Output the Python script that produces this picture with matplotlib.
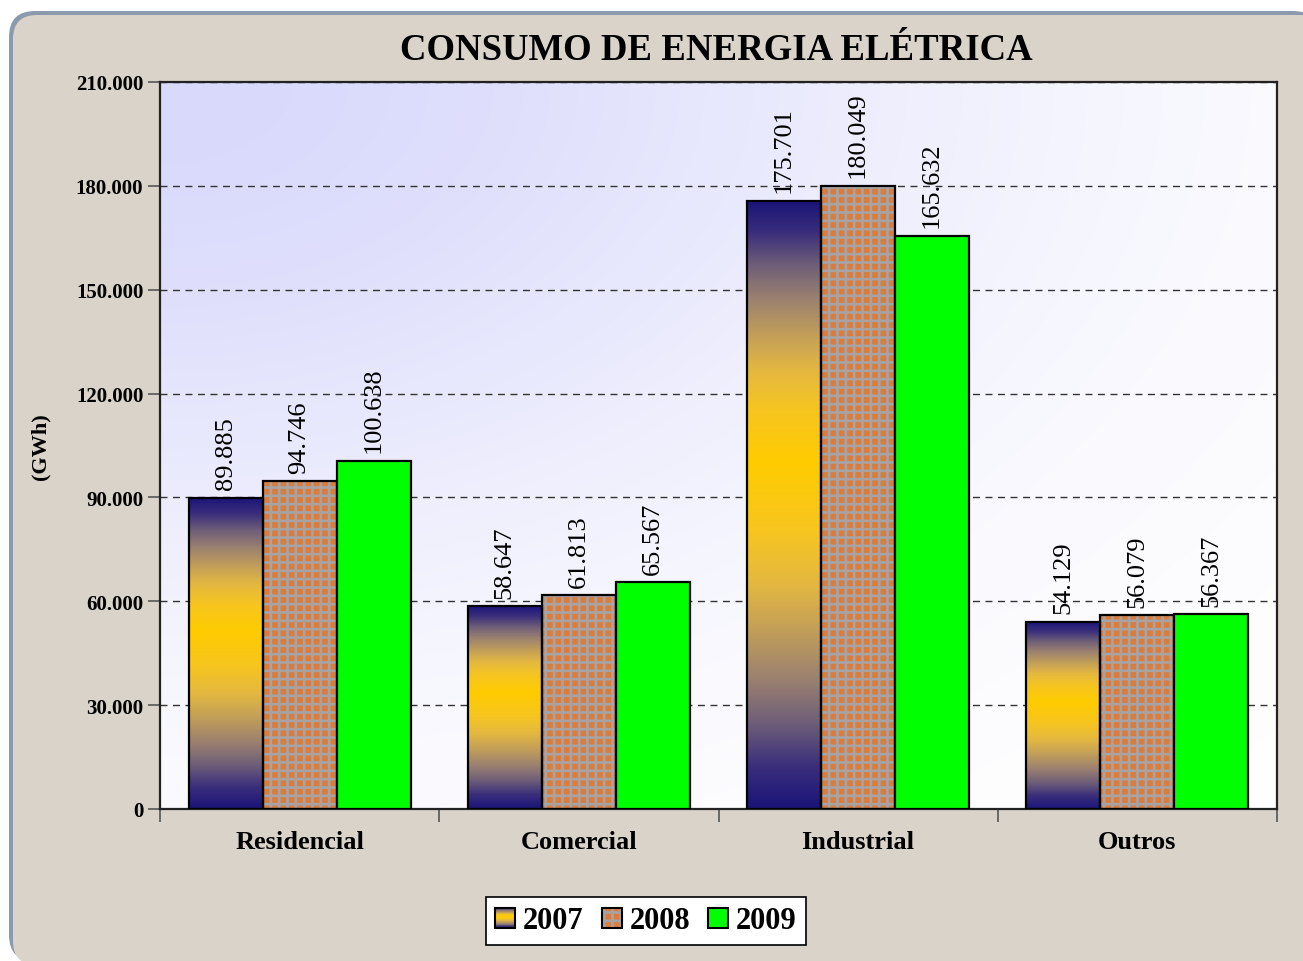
import numpy as np
import matplotlib

matplotlib.use("Agg")
import matplotlib.pyplot as plt
from matplotlib.colors import LinearSegmentedColormap, to_rgb
from matplotlib.patches import FancyBboxPatch, Patch, Rectangle
from matplotlib.transforms import IdentityTransform
from matplotlib.legend_handler import HandlerBase

# dados (GWh)
categorias = ["Residencial", "Comercial", "Industrial", "Outros"]
anos = ["2007", "2008", "2009"]
v2007 = [89885, 58647, 175701, 54129]
v2008 = [94746, 61813, 180049, 56079]
v2009 = [100638, 65567, 165632, 56367]
yticks = [0, 30000, 60000, 90000, 120000, 150000, 180000, 210000]

plt.rcParams["font.family"] = ["Liberation Serif", "DejaVu Serif"]
plt.rcParams["hatch.linewidth"] = 1.9

LARANJA = "#d97d3e"
CINZA_XADREZ = "#a8a2a2"
VERDE = "#00ff00"

# degradê da série 2007: azul-marinho -> amarelo -> azul-marinho
passos = [0, 0.12, 0.245, 0.37, 0.52, 0.65, 0.80, 1.0]
cores = ["#1a1478", "#3a2e7c", "#6e5e78", "#9a8070", "#c4a058", "#e4b840", "#f6c520", "#ffcc00"]
pico = 0.57
stops = [(s * pico, c) for s, c in zip(passos, cores)]
stops += [(1 - s * (1 - pico), c) for s, c in reversed(list(zip(passos[:-1], cores[:-1])))]
cmap07 = LinearSegmentedColormap.from_list("g07", stops)


def fmt(v):
    return f"{v:,}".replace(",", ".")


class HandlerGradiente(HandlerBase):
    def create_artists(self, legend, orig_handle, xdescent, ydescent,
                       width, height, fontsize, trans):
        arts = []
        n = 24
        for i in range(n):
            c = cmap07((i + 0.5) / n)
            arts.append(Rectangle((-xdescent, -ydescent + height * i / n), width, height / n + 0.01,
                                  facecolor=c, edgecolor="none", transform=trans))
        arts.append(Rectangle((-xdescent, -ydescent), width, height, facecolor="none",
                              edgecolor="black", lw=1.5, transform=trans))
        return arts


fig = plt.figure(figsize=(13.03, 9.62), dpi=100, facecolor="white")

# painel arredondado (borda azulada em cima/esquerda)
fig.add_artist(FancyBboxPatch((9, 0), 1310, 950, boxstyle="round,pad=0,rounding_size=26",
                              facecolor="#8c9aae", edgecolor="none",
                              transform=IdentityTransform(), zorder=-2))
fig.add_artist(FancyBboxPatch((13, -4), 1310, 950, boxstyle="round,pad=0,rounding_size=24",
                              facecolor="#dad3c9", edgecolor="none",
                              transform=IdentityTransform(), zorder=-1))

ax = fig.add_axes([160 / 1303, 1 - 810 / 962, 1117 / 1303, 727 / 962])
ax.patch.set_facecolor("none")

# fundo com degradê lavanda -> branco
gx, gy = np.meshgrid(np.linspace(0, 1, 300), np.linspace(0, 1, 300))
r = np.sqrt(gx ** 2 + ((1 - gy) / 0.95) ** 2)
f = np.exp(-(r / 0.72) ** 2)
lav = np.array(to_rgb("#d9d9fc"))
bg = (1 - f)[..., None] * np.ones(3) + f[..., None] * lav
ax.imshow(bg, extent=[0, 1, 0, 1], transform=ax.transAxes, origin="lower",
          aspect="auto", zorder=0, interpolation="bilinear")

x = np.arange(len(categorias))
w = 0.265

b07 = ax.bar(x - w, v2007, w, facecolor="none", edgecolor="black", lw=1.6, zorder=3)
grad = np.linspace(0, 1, 256)[:, None]
for b in b07:
    ax.imshow(grad, extent=[b.get_x(), b.get_x() + b.get_width(), 0, b.get_height()],
              cmap=cmap07, origin="lower", aspect="auto", zorder=2, interpolation="bilinear")

ax.bar(x, v2008, w, facecolor=LARANJA, edgecolor=CINZA_XADREZ, lw=0, hatch="++", zorder=2)
ax.bar(x, v2008, w, facecolor="none", edgecolor="black", lw=1.6, zorder=3)
ax.bar(x + w, v2009, w, facecolor=VERDE, edgecolor="black", lw=1.6, zorder=3)

for off, vals in zip([-w, 0, w], [v2007, v2008, v2009]):
    for xi, v in zip(x, vals):
        ax.annotate(fmt(v), (xi + off, v), xytext=(0, 6), textcoords="offset points",
                    rotation=90, ha="center", va="bottom", fontsize=19, zorder=5)

ax.set_xlim(-0.5, len(categorias) - 0.5)
ax.set_ylim(0, 210000)
ax.set_yticks(yticks)
ax.set_yticklabels([fmt(t) for t in yticks], fontweight="bold", fontsize=15)
ax.tick_params(axis="y", length=9, width=1.2, color="#555555", pad=3)

ax.set_xticks(x)
ax.set_xticklabels(categorias, fontweight="bold", fontsize=19)
ax.set_xticks(np.arange(len(categorias) + 1) - 0.5, minor=True)
ax.tick_params(axis="x", which="major", length=0, pad=15)
ax.tick_params(axis="x", which="minor", length=9, width=1.2, color="#555555")

ax.set_axisbelow(True)
ax.grid(axis="y", color="#333333", lw=1, linestyle=(0, (5, 4)))
for s in ax.spines.values():
    s.set_color("#222222")
    s.set_linewidth(1.6)

fig.text(716 / 1303, 1 - 50 / 962, "CONSUMO DE ENERGIA ELÉTRICA", ha="center", va="center",
         fontsize=26.5, fontweight="bold")
fig.text(40 / 1303, 1 - 447 / 962, "(GWh)", rotation=90, ha="center", va="center",
         fontsize=16, fontweight="bold")

h07 = Patch(facecolor="#ffcc00")
h08 = (Patch(facecolor=LARANJA, edgecolor=CINZA_XADREZ, lw=0, hatch="++"),
       Patch(facecolor="none", edgecolor="black", lw=1.5))
h09 = Patch(facecolor=VERDE, edgecolor="black", lw=1.5)
leg = fig.legend([h07, h08, h09], anos, loc="center",
                 bbox_to_anchor=(646 / 1303, 1 - 922 / 962),
                 ncol=3, prop={"weight": "bold", "size": 22},
                 handler_map={h07: HandlerGradiente()},
                 handlelength=0.65, handleheight=0.65, handletextpad=0.25,
                 columnspacing=0.6, borderpad=0.3, fancybox=False, framealpha=1)
leg.get_frame().set_edgecolor("black")
leg.get_frame().set_linewidth(1.2)

fig.savefig("out.png", dpi=100, facecolor="white")
